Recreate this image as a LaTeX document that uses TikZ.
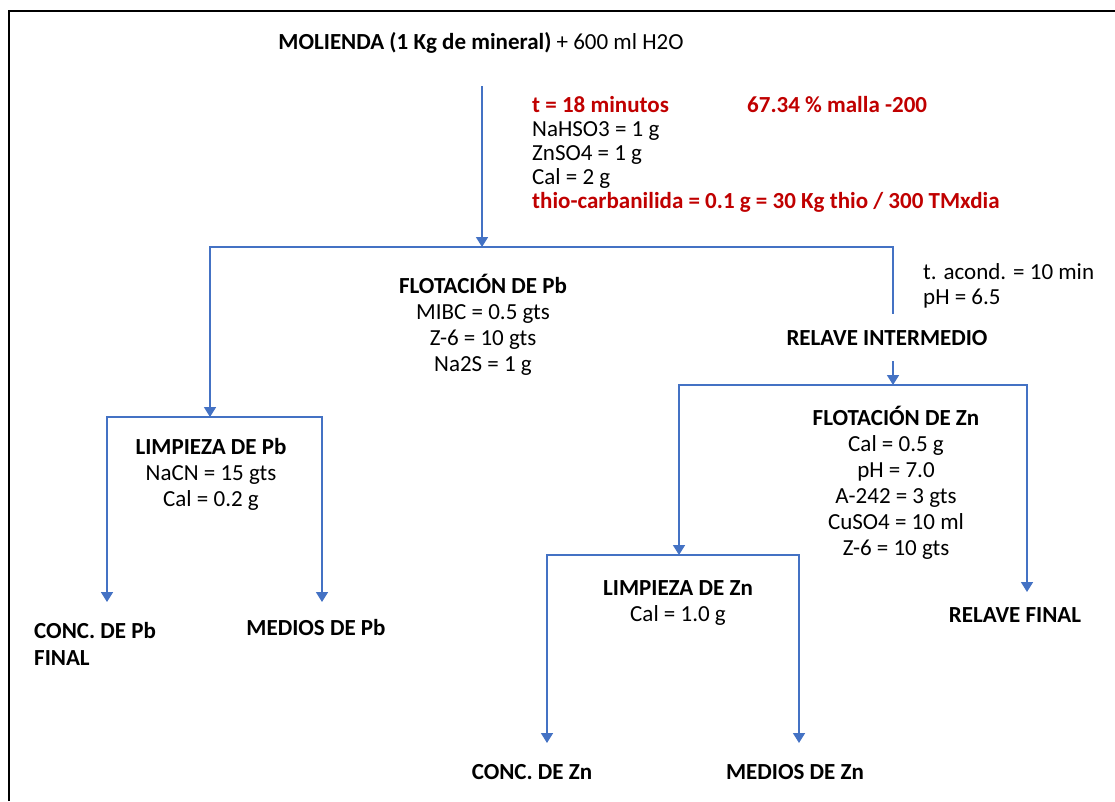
\documentclass[tikz,border=0pt]{standalone}
\usepackage{fontspec}
\setmainfont{Carlito}
\usepackage{xcolor}
\usetikzlibrary{arrows.meta}

\definecolor{flujo}{RGB}{68,114,196}
\definecolor{rojo}{RGB}{192,0,0}

\begin{document}
\begin{tikzpicture}[x=1pt, y=-1pt,
    txt/.style={align=center, inner sep=0pt, font=\fontsize{23}{26}\selectfont},
    lft/.style={align=left, inner sep=0pt, font=\fontsize{23}{24}\selectfont},
    line/.style={draw=flujo, line width=1.6pt, line cap=rect},
    arrow/.style={line, -{Triangle[length=10pt, width=12pt]}}
]
    \useasboundingbox (0,0) rectangle (1115,801);
    \draw[line width=2pt] (9,801) -- (9,11) -- (1115,11);

    % etapas y reactivos
    \node[txt] at (481,43) (molienda) {\textbf{MOLIENDA (1 Kg de mineral)} + 600 ml H2O};
    \node[lft, anchor=north west] at (532,96) (reactivos) {\textcolor{rojo}{\textbf{\makebox[215pt][l]{t = 18 minutos}67.34 \% malla -200}}\\
        NaHSO3 = 1 g\\ ZnSO4 = 1 g\\ Cal = 2 g\\
        \textcolor{rojo}{\textbf{thio-carbanilida = 0.1 g = 30 Kg thio / 300 TMxdia}}};
    \node[txt, anchor=north] at (483,274) (flotPb) {\textbf{FLOTACIÓN DE Pb}\\ MIBC = 0.5 gts\\ Z-6 = 10 gts\\ Na2S = 1 g};
    \node[lft, anchor=north west, font=\fontsize{23}{25}\selectfont] at (923,263) (acond) {t. acond. = 10 min\\ pH = 6.5};
    \node[txt] at (887,338) (relaveInt) {\textbf{RELAVE INTERMEDIO}};
    \node[txt, anchor=north] at (896,406) (flotZn) {\textbf{FLOTACIÓN DE Zn}\\ Cal = 0.5 g\\ pH = 7.0\\ A-242 = 3 gts\\ CuSO4 = 10 ml\\ Z-6 = 10 gts};
    \node[txt, anchor=north] at (211,438) (limpPb) {\textbf{LIMPIEZA DE Pb}\\ NaCN = 15 gts\\ Cal = 0.2 g};
    \node[txt, anchor=north] at (678,580) (limpZn) {\textbf{LIMPIEZA DE Zn}\\ Cal = 1.0 g};

    % productos
    \node[lft, anchor=north west, font=\fontsize{23}{27}\selectfont\bfseries] at (34,622) (concPb) {CONC. DE Pb\\ FINAL};
    \node[txt] at (316,628) (mediosPb) {\textbf{MEDIOS DE Pb}};
    \node[txt] at (1015,615) (relaveFin) {\textbf{RELAVE FINAL}};
    \node[txt] at (532,772) (concZn) {\textbf{CONC. DE Zn}};
    \node[txt] at (795,772) (mediosZn) {\textbf{MEDIOS DE Zn}};

    % puntos de division
    \coordinate (molOut) at (482,87);
    \coordinate (sPb) at (482,247);
    \coordinate (sPbL) at (210,247);
    \coordinate (sPbR) at (893,247);
    \coordinate (relIn) at (893,313);
    \coordinate (relOut) at (893,362);
    \coordinate (sZn) at (893,385);
    \coordinate (sZnL) at (679,385);
    \coordinate (sZnR) at (1027,385);
    \coordinate (finIn) at (1027,592);
    \coordinate (sLimpPb) at (210,417);
    \coordinate (sLimpPbL) at (107,417);
    \coordinate (sLimpPbR) at (322,417);
    \coordinate (concPbIn) at (107,602);
    \coordinate (mediosPbIn) at (322,602);
    \coordinate (sLimpZn) at (679,555);
    \coordinate (sLimpZnL) at (547,555);
    \coordinate (sLimpZnR) at (799,555);
    \coordinate (concZnIn) at (547,743);
    \coordinate (mediosZnIn) at (799,743);

    \draw[arrow] (molOut) -- (sPb);
    \draw[line] (sPbL) -- (sPbR) -- (relIn);
    \draw[arrow] (sPbL) -- (sLimpPb);
    \draw[arrow] (relOut) -- (sZn);
    \draw[line] (sZnL) -- (sZnR);
    \draw[arrow] (sZnL) -- (sLimpZn);
    \draw[arrow] (sZnR) -- (finIn);
    \draw[line] (sLimpPbL) -- (sLimpPbR);
    \draw[arrow] (sLimpPbL) -- (concPbIn);
    \draw[arrow] (sLimpPbR) -- (mediosPbIn);
    \draw[line] (sLimpZnL) -- (sLimpZnR);
    \draw[arrow] (sLimpZnL) -- (concZnIn);
    \draw[arrow] (sLimpZnR) -- (mediosZnIn);
\end{tikzpicture}
\end{document}
